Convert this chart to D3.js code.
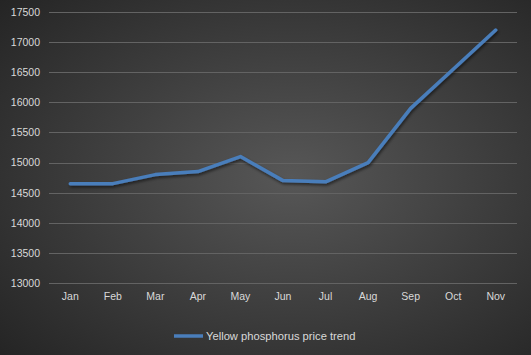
<!DOCTYPE html>
<html><head><meta charset="utf-8">
<script src="https://cdn.jsdelivr.net/npm/d3@7"></script>
<style>html,body{margin:0;padding:0;background:#333;}svg{display:block;}</style>
</head><body>
<script>
const months = ["Jan","Feb","Mar","Apr","May","Jun","Jul","Aug","Sep","Oct","Nov"];
const prices = [14650,14650,14800,14850,15100,14700,14680,15000,15900,16550,17200];
const yTicks = [13000,13500,14000,14500,15000,15500,16000,16500,17000,17500];
const seriesName = "Yellow phosphorus price trend";

(function(){
const W = 531, H = 355;
const svg = d3.select("body").append("svg").attr("width", W).attr("height", H);
const defs = svg.append("defs");
const rg = defs.append("radialGradient").attr("id","bg").attr("cx","55%").attr("cy","50%").attr("r","75%");
rg.append("stop").attr("offset","0%").attr("stop-color","#575757");
rg.append("stop").attr("offset","100%").attr("stop-color","#242424");
const f = defs.append("filter").attr("id","sh").attr("x","-10%").attr("y","-10%").attr("width","120%").attr("height","130%");
f.append("feDropShadow").attr("dx",1).attr("dy",2).attr("stdDeviation",1.5).attr("flood-color","#000").attr("flood-opacity",0.55);

svg.append("rect").attr("width",W).attr("height",H).attr("fill","url(#bg)");

const mLeft = 49, mRight = 517, mTop = 12, mBottom = 283;
const x = d3.scaleBand().domain(months).range([mLeft,mRight]);
const y = d3.scaleLinear().domain([13000,17500]).range([mBottom,mTop]);

const font = "'Liberation Sans', Arial, sans-serif";
const g = svg.append("g");
g.selectAll("line.grid").data(yTicks).enter().append("line")
  .attr("x1",mLeft).attr("x2",mRight)
  .attr("y1",d=>Math.round(y(d))+0.5).attr("y2",d=>Math.round(y(d))+0.5)
  .attr("stroke","#636363").attr("stroke-width",1);

const yAxis = svg.append("g").attr("transform",`translate(${mLeft},0)`)
  .call(d3.axisLeft(y).tickValues(yTicks).tickSize(0).tickPadding(9).tickFormat(d3.format("d")));
yAxis.select(".domain").remove();
yAxis.selectAll("text").attr("fill","#d9d9d9").style("font-family",font).style("font-size","10.5px");

const xAxis = svg.append("g").attr("transform",`translate(0,${mBottom})`)
  .call(d3.axisBottom(x).tickSize(0).tickPadding(10));
xAxis.select(".domain").remove();
xAxis.selectAll("text").attr("fill","#d9d9d9").style("font-family",font).style("font-size","10.5px");

const line = d3.line().x((d,i)=>x(months[i])+x.bandwidth()/2).y(d=>y(d));
svg.append("path").datum(prices).attr("d",line).attr("fill","none")
  .attr("stroke","#4a7ebb").attr("stroke-width",3.5).attr("stroke-linejoin","round").attr("stroke-linecap","round")
  .attr("filter","url(#sh)");

const lg = svg.append("g").attr("transform","translate(174,336)");
lg.append("line").attr("x1",0).attr("x2",29).attr("y1",0).attr("y2",0).attr("stroke","#4a7ebb").attr("stroke-width",3.5);
lg.append("text").attr("x",32).attr("y",4).attr("fill","#d9d9d9").style("font-family",font).style("font-size","11.2px").text(seriesName);
})();
</script>
</body></html>
